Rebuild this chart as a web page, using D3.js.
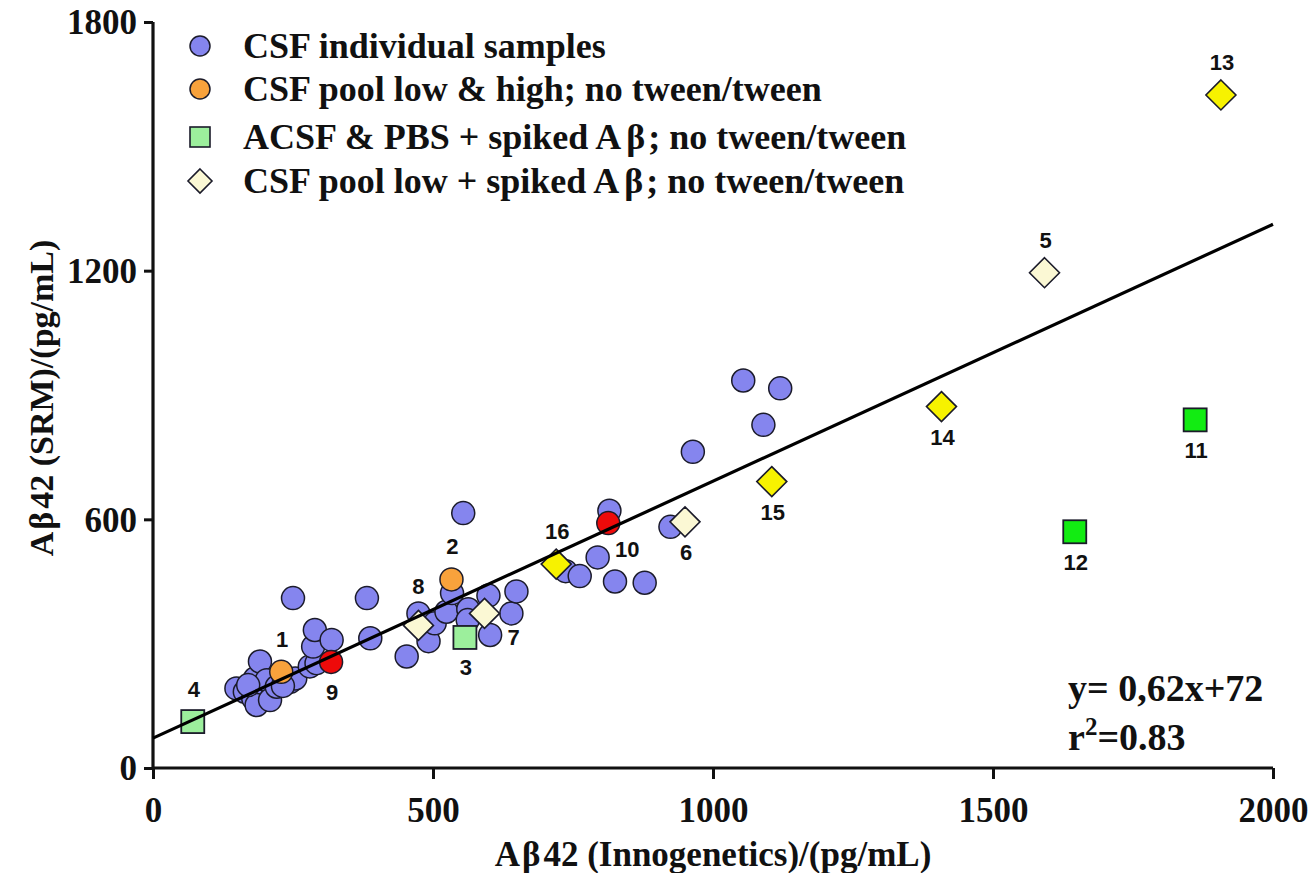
<!DOCTYPE html>
<html>
<head>
<meta charset="utf-8">
<script src="https://cdn.jsdelivr.net/npm/d3@7"></script>
<style>
  html, body { margin: 0; padding: 0; background: #fff; }
  svg { display: block; }
  .serif { font-family: "Liberation Serif", "Times New Roman", serif; font-weight: bold; fill: #111; }
  .num { font-family: "Liberation Sans", Arial, sans-serif; font-weight: bold; fill: #111; }
</style>
</head>
<body>
<svg id="chart" width="1312" height="873"></svg>
<script>
// Aβ42 measured by Innogenetics ELISA (x) vs SRM (y), pg/mL
const csfIndividual = [
  [149,192],[164,184],[179,168],[185,152],[182,216],[191,257],[203,212],[209,164],
  [221,196],[245,208],[254,216],[280,245],[292,253],[286,293],[289,333],[319,309],
  [232,198],[170,200],[250,410],[382,410],[388,313],[453,269],[474,373],[492,306],
  [503,349],[524,377],[534,422],[554,615],[563,383],[562,357],[599,416],[602,321],
  [640,373],[649,426],[737,475],[762,463],[794,508],[815,621],[825,450],[878,447],
  [924,582],[964,763],[1054,935],[1090,828],[1120,916]
];
const csfPool = [ {x:229, y:232, id:"1"}, {x:533, y:455, id:"2"} ];
const csfPoolRed = [ {x:318, y:256, id:"9"}, {x:813, y:591, id:"10"} ];
const acsfSpiked = [ {x:557, y:315, id:"3"}, {x:71, y:112, id:"4"} ];
const acsfSpikedTween = [ {x:1861, y:840, id:"11"}, {x:1646, y:570, id:"12"} ];
const poolSpiked = [ {x:1592, y:1195, id:"5"}, {x:950, y:594, id:"6"}, {x:592, y:373, id:"7"}, {x:474, y:344, id:"8"} ];
const poolSpikedTween = [ {x:1907, y:1624, id:"13"}, {x:1408, y:872, id:"14"}, {x:1105, y:691, id:"15"}, {x:720, y:492, id:"16"} ];

const xTicks = [0, 500, 1000, 1500, 2000];
const yTicks = [0, 600, 1200, 1800];
// each legend entry: text before β, and text after it (null when there is no β)
const legendLabels = [
  ["CSF individual samples", null],
  ["CSF pool low & high; no tween/tween", null],
  ["ACSF & PBS + spiked A", "; no tween/tween"],
  ["CSF pool low + spiked A", "; no tween/tween"]
];
const fit = { slope: 0.62, intercept: 72 };

// label placement: where each point number sits relative to its marker
const labelSide = { "1":"up", "2":"up", "4":"up", "5":"up", "8":"upLeft", "13":"up", "16":"up",
  "3":"down", "6":"down", "9":"down", "11":"down", "12":"down", "14":"down", "15":"down",
  "7":"downRight", "10":"downRightNear" };

const svg = d3.select("#chart");
const x = d3.scaleLinear().domain([0, 2000]).range([153, 1273]);
const y = d3.scaleLinear().domain([0, 1800]).range([768, 22]);

// axes
const xAxis = svg.append("g").attr("transform", "translate(0,768)")
  .call(d3.axisBottom(x).tickValues(xTicks).tickFormat(d3.format("d")).tickSize(11).tickPadding(10));
const yAxis = svg.append("g").attr("transform", "translate(153,0)")
  .call(d3.axisLeft(y).tickValues(yTicks).tickFormat(d3.format("d")).tickSize(9).tickPadding(7));
[xAxis, yAxis].forEach(g => {
  g.select(".domain").attr("stroke", "#111").attr("stroke-width", 3.2);
  g.selectAll(".tick line").attr("stroke", "#111").attr("stroke-width", 3);
  g.selectAll(".tick text").attr("class", "serif").style("font-size", "35px").attr("fill", "#111");
});
xAxis.select(".domain").attr("d", `M${x(0)},0H${x(2000)}`);
yAxis.select(".domain").attr("d", `M0,${y(0)}V${y(1800)}`);
yAxis.selectAll(".tick text").attr("dy", "0.34em");
xAxis.selectAll(".tick text").attr("dy", "0.95em");

// axis titles
function betaTitle(sel, rest) {
  sel.append("tspan").text("A");
  sel.append("tspan").attr("dx", 2).text("\u03B2");
  sel.append("tspan").attr("dx", 3).text(rest);
}
svg.append("text").attr("class", "serif").attr("x", 713).attr("y", 866)
  .attr("text-anchor", "middle").style("font-size", "35px")
  .call(betaTitle, "42 (Innogenetics)/(pg/mL)");
svg.append("text").attr("class", "serif")
  .attr("transform", "translate(53,398) rotate(-90)")
  .attr("text-anchor", "middle").style("font-size", "34px")
  .call(betaTitle, "42 (SRM)/(pg/mL)");

const stroke = "#1b1b2a";
const diamond = s => `M0,${-s}L${s},0L0,${s}L${-s},0Z`;

// individual CSF samples
svg.append("g").selectAll("circle").data(csfIndividual).join("circle")
  .attr("cx", d => x(d[0])).attr("cy", d => y(d[1])).attr("r", 11.5)
  .attr("fill", "#8585ee").attr("stroke", stroke).attr("stroke-width", 1.5);

function circles(data, fill) {
  svg.append("g").selectAll("circle").data(data).join("circle")
    .attr("cx", d => x(d.x)).attr("cy", d => y(d.y)).attr("r", 11.5)
    .attr("fill", fill).attr("stroke", stroke).attr("stroke-width", 1.5);
}
function squares(data, fill) {
  svg.append("g").selectAll("rect").data(data).join("rect")
    .attr("x", d => x(d.x) - 11.5).attr("y", d => y(d.y) - 11.5)
    .attr("width", 23).attr("height", 23)
    .attr("fill", fill).attr("stroke", stroke).attr("stroke-width", 1.8);
}
function diamonds(data, fill) {
  svg.append("g").selectAll("path").data(data).join("path")
    .attr("transform", d => `translate(${x(d.x)},${y(d.y)})`)
    .attr("d", diamond(15))
    .attr("fill", fill).attr("stroke", stroke).attr("stroke-width", 1.6);
}
circles(csfPool, "#f8a23c");
circles(csfPoolRed, "#ee0a0a");
squares(acsfSpiked, "#9cef9c");
squares(acsfSpikedTween, "#12ec12");
diamonds(poolSpiked, "#fbf8d4");
diamonds(poolSpikedTween, "#f7f200");

// regression line
svg.append("line")
  .attr("x1", x(0)).attr("y1", y(fit.intercept))
  .attr("x2", x(2000)).attr("y2", y(fit.slope * 2000 + fit.intercept))
  .attr("stroke", "#000").attr("stroke-width", 3.2);

// point numbers
const labelled = [].concat(csfPool, csfPoolRed, acsfSpiked, acsfSpikedTween, poolSpiked, poolSpikedTween);
const offs = { up:[1,-25], down:[1,38], upLeft:[0,-31], downRight:[29,32], downRightNear:[19,34] };
svg.append("g").selectAll("text").data(labelled).join("text")
  .attr("class", "num").style("font-size", "22px").attr("text-anchor", "middle")
  .attr("x", d => x(d.x) + offs[labelSide[d.id]][0])
  .attr("y", d => y(d.y) + offs[labelSide[d.id]][1])
  .text(d => d.id);

// legend
const legend = svg.append("g");
const legendRows = [46, 89, 137, 181];
const lx = 200;
legend.append("circle").attr("cx", lx).attr("cy", legendRows[0]).attr("r", 10)
  .attr("fill", "#8585ee").attr("stroke", stroke).attr("stroke-width", 1.5);
legend.append("circle").attr("cx", lx).attr("cy", legendRows[1]).attr("r", 10)
  .attr("fill", "#f8a23c").attr("stroke", stroke).attr("stroke-width", 1.5);
legend.append("rect").attr("x", lx - 10).attr("y", legendRows[2] - 10).attr("width", 20).attr("height", 20)
  .attr("fill", "#9cef9c").attr("stroke", stroke).attr("stroke-width", 1.6);
legend.append("path").attr("transform", `translate(${lx},${legendRows[3]})`).attr("d", diamond(12))
  .attr("fill", "#fbf8d4").attr("stroke", stroke).attr("stroke-width", 1.6);
legend.selectAll("text.leg").data(legendLabels).join("text")
  .attr("class", "serif leg").style("font-size", "36px")
  .attr("x", 243).attr("y", (d, i) => legendRows[i] + 12)
  .each(function(d) {
    const t = d3.select(this);
    t.append("tspan").text(d[0]);
    if (d[1] !== null) {
      t.append("tspan").attr("dx", 5).text("\u03B2");
      t.append("tspan").attr("dx", 3).text(d[1]);
    }
  });

// fit equation
svg.append("text").attr("class", "serif").style("font-size", "38px")
  .attr("x", 1068).attr("y", 701).text("y= 0,62x+72");
const r2 = svg.append("text").attr("class", "serif").style("font-size", "38px")
  .attr("x", 1068).attr("y", 750);
r2.append("tspan").text("r");
r2.append("tspan").attr("dy", -15).style("font-size", "25px").text("2");
r2.append("tspan").attr("dy", 15).text("=0.83");
</script>
</body>
</html>
